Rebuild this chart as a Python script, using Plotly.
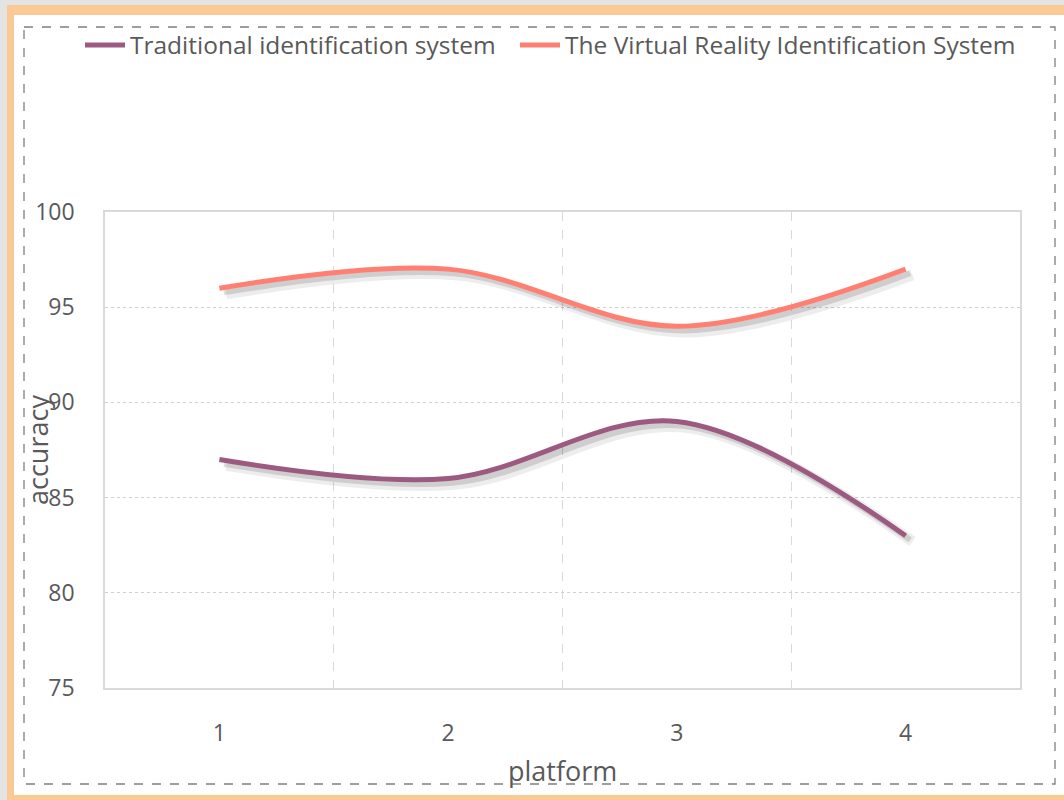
import plotly.graph_objects as go

platforms = [1, 2, 3, 4]
traditional = [87, 86, 89, 83]
vr_system = [96, 97, 94, 97]
series_names = ["Traditional identification system", "The Virtual Reality Identification System"]
series_colors = ["#9C5A80", "#FF8073"]
y_ticks = [75, 80, 85, 90, 95, 100]

FONT = "Open Sans"
TXT = "#595959"

# plot area in pixels (for shapes in margin)
L, R, T, B = 105, 1020, 212, 688
W, H = R - L, B - T
def px(x):
    return (x - L) / W
def py(y):
    return (B - y) / H

fig = go.Figure()

# soft shadows under lines
for ys in (traditional, vr_system):
    fig.add_trace(go.Scatter(
        x=[v + 0.03 for v in platforms], y=[v - 0.3 for v in ys],
        mode="lines", line=dict(color="rgba(0,0,0,0.07)", width=11, shape="spline", smoothing=1.0),
        hoverinfo="skip", showlegend=False))
    fig.add_trace(go.Scatter(
        x=[v + 0.02 for v in platforms], y=[v - 0.22 for v in ys],
        mode="lines", line=dict(color="rgba(0,0,0,0.13)", width=6, shape="spline", smoothing=1.0),
        hoverinfo="skip", showlegend=False))

legend_ids = ["legend", "legend2"]
for name, ys, col, lg in zip(series_names, (traditional, vr_system), series_colors, legend_ids):
    fig.add_trace(go.Scatter(
        x=platforms, y=ys, mode="lines", name=name, legend=lg,
        line=dict(color=col, width=5, shape="spline", smoothing=1.0)))

shapes = [
    dict(type="rect", xref="paper", yref="paper", layer="below",
         x0=px(7), x1=px(1090), y0=py(5), y1=py(830),
         fillcolor="#FBC993", line=dict(width=0)),
    dict(type="rect", xref="paper", yref="paper", layer="below",
         x0=px(14), x1=px(1085), y0=py(15), y1=py(795),
         fillcolor="white", line=dict(width=0)),
    dict(type="rect", xref="paper", yref="paper", layer="below",
         x0=px(24), x1=px(1055), y0=py(27), y1=py(784),
         fillcolor="rgba(0,0,0,0)", line=dict(color="#7f7f7f", width=1.3, dash="dash")),
]

legend_style = dict(orientation="h", xanchor="left", y=py(45), yanchor="middle",
                    font=dict(size=24.5, color=TXT), bgcolor="rgba(0,0,0,0)",
                    itemwidth=40, tracegroupgap=0)

fig.update_layout(
    width=1064, height=800,
    margin=dict(l=L, r=1064 - R, t=T, b=800 - B),
    paper_bgcolor="#E4E4E4", plot_bgcolor="rgba(0,0,0,0)",
    font=dict(family=FONT, color=TXT, size=20),
    shapes=shapes,
    showlegend=True,
    legend=dict(x=px(80), **legend_style),
    legend2=dict(x=px(515), **legend_style),
    xaxis=dict(range=[0.5, 4.5], tickvals=platforms, ticktext=[str(p) for p in platforms],
               showgrid=False, zeroline=False,
               showline=True, mirror=True, linecolor="#d9d9d9", linewidth=1.5,
               ticks="", ticklabelstandoff=24, tickfont=dict(size=23, color=TXT),
               minor=dict(tick0=0.5, dtick=1, showgrid=True, gridcolor="#d9d9d9",
                          griddash="dash", gridwidth=1.2)),
    yaxis=dict(range=[75, 100], tickvals=y_ticks, showgrid=True, gridcolor="#d0d0d0",
               griddash="dot", gridwidth=1, zeroline=False,
               showline=True, mirror=True, linecolor="#d9d9d9", linewidth=1.5,
               ticks="", ticklabelstandoff=24, tickfont=dict(size=23, color=TXT)),
    annotations=[
        dict(text="accuracy", xref="paper", yref="paper", x=px(37), y=0.5, textangle=-90,
             showarrow=False, font=dict(size=27, color=TXT), xanchor="center", yanchor="middle"),
        dict(text="platform", xref="paper", yref="paper", x=px(562), y=py(770),
             showarrow=False, font=dict(size=27, color=TXT), xanchor="center", yanchor="middle"),
    ],
)

fig.write_html("out.html", config={"displayModeBar": False},
               post_script="document.body.style.margin='0';document.body.style.overflow='hidden';")
